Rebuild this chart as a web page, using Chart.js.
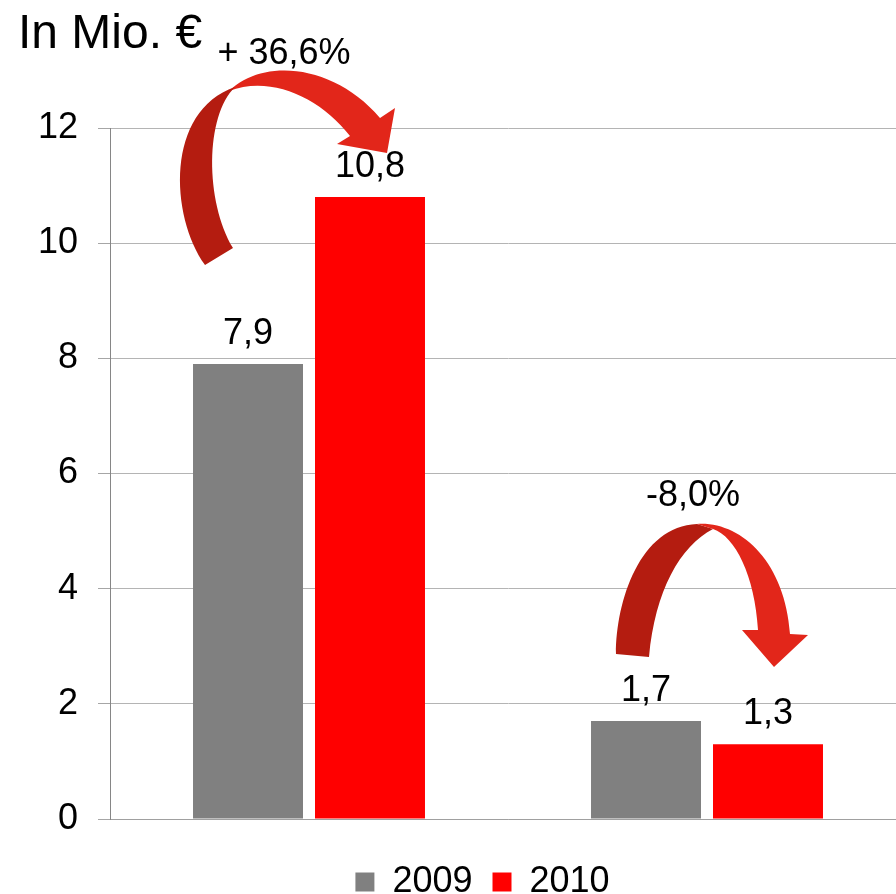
<!DOCTYPE html>
<html lang="de">
<head>
<meta charset="utf-8">
<title>In Mio. €</title>
<script src="https://cdn.jsdelivr.net/npm/chart.js@4/dist/chart.umd.min.js"></script>
<style>
    html, body { margin: 0; padding: 0; background: #fff; overflow: hidden; }
    #wrap { position: relative; width: 965px; height: 910px; }
</style>
</head>
<body>
<div id="wrap"><canvas id="chart"></canvas></div>
<script>
// Dati del grafico
const categories = ['', ''];
const years = ['2009', '2010'];
const values2009 = [7.9, 1.7];
const values2010 = [10.8, 1.3];
const changeLabels = ['+ 36,6%', '-8,0%'];
const yTicks = [0, 2, 4, 6, 8, 10, 12];

const FONT = "'Liberation Sans', Arial, sans-serif";
const GREY = '#808080';
const RED = '#ff0000';
const ARROW_DARK = '#b41c10';
const ARROW_LIGHT = '#e2261a';

function fmt(v) {
    return v.toFixed(1).replace('.', ',');
}

// Forme delle frecce curve: offset (px) dal centro della categoria e dalla linea dello zero
const arrowShapes = [
    {
        order: ['light', 'dark'],
        label: { dx: -25, dy: -755 },
        dark: [['M', -104, -554], ['C', -139, -603, -144, -708, -74, -732],
               ['C', -104, -703, -104, -618, -76, -571]],
        light: [['M', -88, -718], ['C', -59, -762, 21, -760, 71, -701], ['L', 86, -711],
                ['L', 78, -666], ['L', 28, -675], ['L', 41, -683],
                ['C', 11, -722, -39, -744, -80, -728]]
    },
    {
        order: ['dark', 'light'],
        label: { dx: -14, dy: -313 },
        dark: [['M', -91, -165], ['C', -91, -218, -67, -293, -10, -295], ['L', 6, -290],
               ['C', -27, -273, -52, -228, -58, -162]],
        light: [['M', -10, -295], ['C', 33, -298, 78, -258, 83, -185], ['L', 101, -184],
                ['L', 67, -152], ['L', 35, -189], ['L', 51, -189],
                ['C', 48, -243, 28, -283, 6, -290]]
    }
];

function tracePath(ctx, cmds, ox, oy) {
    ctx.beginPath();
    cmds.forEach(c => {
        if (c[0] === 'M') ctx.moveTo(ox + c[1], oy + c[2]);
        else if (c[0] === 'L') ctx.lineTo(ox + c[1], oy + c[2]);
        else ctx.bezierCurveTo(ox + c[1], oy + c[2], ox + c[3], oy + c[4], ox + c[5], oy + c[6]);
    });
    ctx.closePath();
}

// Plugin: titolo, etichette dei valori, frecce e percentuali
const annotationsPlugin = {
    id: 'annotations',
    afterDatasetsDraw(chart) {
        const ctx = chart.ctx;
        const x = chart.scales.x;
        const y = chart.scales.y;
        const y0 = y.getPixelForValue(0);

        ctx.save();
        ctx.fillStyle = '#000';
        ctx.font = '48px ' + FONT;
        ctx.textAlign = 'left';
        ctx.textBaseline = 'alphabetic';
        ctx.fillText('In Mio. €', 18, 48);

        // valori sopra le barre
        ctx.font = '36px ' + FONT;
        ctx.textAlign = 'center';
        chart.data.datasets.forEach((ds, di) => {
            chart.getDatasetMeta(di).data.forEach((bar, i) => {
                ctx.fillText(fmt(ds.data[i]), bar.x, bar.y - 20);
            });
        });

        // frecce
        arrowShapes.forEach((shape, i) => {
            const cx = x.getPixelForValue(i);
            shape.order.forEach(part => {
                tracePath(ctx, shape[part], cx, y0);
                ctx.fillStyle = part === 'dark' ? ARROW_DARK : ARROW_LIGHT;
                ctx.fill();
            });
            ctx.fillStyle = '#000';
            ctx.fillText(changeLabels[i], cx + shape.label.dx, y0 + shape.label.dy);
        });
        ctx.restore();
    }
};

const chart = new Chart(document.getElementById('chart').getContext('2d'), {
    type: 'bar',
    data: {
        labels: categories,
        datasets: [
            { label: years[0], data: values2009, backgroundColor: GREY, borderWidth: 0 },
            { label: years[1], data: values2010, backgroundColor: RED, borderWidth: 0 }
        ]
    },
    options: {
        responsive: true,
        maintainAspectRatio: false,
        animation: false,
        categoryPercentage: 0.613,
        barPercentage: 0.9016,
        layout: { padding: { top: 128, left: 0, right: 0, bottom: 0 } },
        plugins: {
            legend: {
                position: 'bottom',
                labels: {
                    boxWidth: 19,
                    boxHeight: 19,
                    padding: 20,
                    color: '#000',
                    font: { size: 36, family: FONT }
                }
            },
            tooltip: { enabled: false }
        },
        scales: {
            x: {
                ticks: { display: false },
                grid: { display: false },
                border: { display: true, color: '#a0a0a0', width: 1 },
                afterFit(scale) { scale.height = 25; }
            },
            y: {
                min: 0,
                max: 12,
                afterBuildTicks(scale) { scale.ticks = yTicks.map(v => ({ value: v })); },
                ticks: {
                    padding: 20,
                    color: '#000',
                    font: { size: 36, family: FONT }
                },
                grid: { color: '#b4b4b4', tickLength: 12, tickColor: '#a6a6a6' },
                border: { color: '#868686', width: 1 },
                afterFit(scale) { scale.width = 110; }
            },
            // asse vuoto a destra (fuori dall'immagine) per centrare la legenda come nell'originale
            yRight: {
                position: 'right',
                ticks: { display: false },
                grid: { display: false },
                border: { display: false },
                afterFit(scale) { scale.width = 59; }
            }
        }
    },
    plugins: [annotationsPlugin]
});
</script>
</body>
</html>
